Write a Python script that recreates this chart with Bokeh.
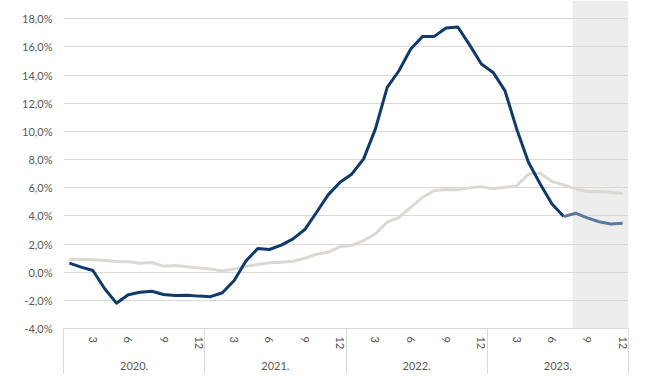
from bokeh.plotting import figure
from bokeh.models import LinearAxis, FixedTicker, BoxAnnotation, Range1d
from bokeh.embed import file_html
from bokeh.resources import INLINE

# ---- data -------------------------------------------------------------
years = ["2020.", "2021.", "2022.", "2023."]
month_labels = ["3", "6", "9", "12"]          # month ticks shown inside each year
month_numbers = [3, 6, 9, 12]

# dark blue series: Jan 2020 .. Jul 2023 (actual)
blue_actual = [
    0.64, 0.36, 0.12, -1.18, -2.2, -1.6, -1.42, -1.35, -1.58, -1.65, -1.64, -1.7,
    -1.74, -1.46, -0.59, 0.8, 1.68, 1.61, 1.92, 2.37, 3.03, 4.26, 5.51, 6.39,
    6.98, 8.05, 10.18, 13.13, 14.31, 15.85, 16.75, 16.75, 17.35, 17.42, 16.15, 14.79,
    14.19, 12.9, 10.18, 7.81, 6.27, 4.85, 3.95,
]
# lighter blue series: Jul 2023 .. Dec 2023 (forecast, starts at last actual)
blue_forecast = [3.95, 4.19, 3.86, 3.58, 3.43, 3.48]

# light grey series: Jan 2020 .. Dec 2023
grey = [
    0.9, 0.9, 0.88, 0.83, 0.76, 0.74, 0.63, 0.69, 0.42, 0.48, 0.39, 0.3,
    0.22, 0.08, 0.22, 0.4, 0.55, 0.67, 0.7, 0.78, 0.99, 1.28, 1.42, 1.82,
    1.9, 2.25, 2.72, 3.55, 3.9, 4.61, 5.32, 5.8, 5.87, 5.85, 5.99, 6.08,
    5.92, 6.03, 6.13, 6.98, 7.03, 6.44, 6.2, 5.92, 5.73, 5.73, 5.66, 5.59,
]

y_ticks = [-4, -2, 0, 2, 4, 6, 8, 10, 12, 14, 16, 18]

# ---- derived positions (month i sits at the centre of slot i) ---------
n_months = 12 * len(years)
x_all = [i + 0.5 for i in range(n_months)]
x_actual = x_all[:len(blue_actual)]
x_forecast = x_all[len(blue_actual) - 1:len(blue_actual) - 1 + len(blue_forecast)]

month_tick_pos = [y * 12 + m - 0.5 for y in range(len(years)) for m in month_numbers]
month_tick_lab = {pos: month_labels[k % 4] for k, pos in enumerate(month_tick_pos)}
year_bounds = [12 * k for k in range(len(years) + 1)]
year_centers = [12 * k + 6 for k in range(len(years))]
year_tick_lab = {c: years[k] for k, c in enumerate(year_centers)}

shade_start = len(blue_actual) + 0.25   # forecast area begins in Aug 2023

FONT = "Lato"
TXT = "#595959"
GRID = "#d9d9d9"
SEP_LEN = 45

p = figure(width=661, height=382, output_backend="svg", toolbar_location=None,
           x_range=Range1d(0, n_months), y_range=Range1d(-4, 19.3),
           min_border_left=63, min_border_right=33, min_border_top=0,
           min_border_bottom=54)
p.outline_line_color = None
p.background_fill_color = "white"
p.border_fill_color = "white"

# forecast shading (below the grid)
p.add_layout(BoxAnnotation(left=shade_start, right=n_months, bottom=-4,
                           fill_color="#ededed", fill_alpha=1.0,
                           line_color=None, level="image"))

# grid
p.xgrid.visible = False
p.ygrid.ticker = FixedTicker(ticks=y_ticks)
p.ygrid.grid_line_color = GRID
p.ygrid.grid_line_width = 1

# lines
p.line(x_all, grey, line_color="#dcd9d4", line_width=3, line_join="round")
p.line(x_actual, blue_actual, line_color="#0e3a6c", line_width=3, line_join="round")
p.line(x_forecast, blue_forecast, line_color="#5a7aa1", line_width=3, line_join="round")

# y axis
ya = p.yaxis[0]
ya.ticker = FixedTicker(ticks=y_ticks)
ya.major_label_overrides = {v: f"{v:.1f}".replace(".", ",") + "%" for v in y_ticks}
ya.axis_line_color = None
ya.major_tick_line_color = None
ya.major_tick_out = 0
ya.major_tick_in = 0
ya.minor_tick_line_color = None
ya.minor_tick_out = 0
ya.major_label_standoff = 11
ya.major_label_text_font = FONT
ya.major_label_text_font_size = "11px"
ya.major_label_text_color = TXT

# x axis: months (minor ticks draw the year separators)
xa = p.xaxis[0]
xa.ticker = FixedTicker(ticks=month_tick_pos, minor_ticks=year_bounds)
xa.major_label_overrides = month_tick_lab
xa.major_label_orientation = "vertical"
xa.major_tick_line_color = None
xa.major_tick_out = 0
xa.major_tick_in = 0
xa.minor_tick_in = 0
xa.minor_tick_out = SEP_LEN
xa.minor_tick_line_color = GRID
xa.axis_line_color = GRID
xa.major_label_standoff = 8 - SEP_LEN
xa.major_label_text_font = FONT
xa.major_label_text_font_size = "11px"
xa.major_label_text_color = TXT

# x axis: years
xa2 = LinearAxis(ticker=FixedTicker(ticks=year_centers),
                 major_label_overrides=year_tick_lab,
                 axis_line_color=None, major_tick_line_color=None,
                 major_tick_out=0, major_tick_in=0, minor_tick_out=0,
                 minor_tick_line_color=None, major_label_standoff=9,
                 major_label_text_font=FONT, major_label_text_font_size="11px",
                 major_label_text_color=TXT)
p.add_layout(xa2, "below")

open("out.html", "w").write(file_html(p, INLINE))
